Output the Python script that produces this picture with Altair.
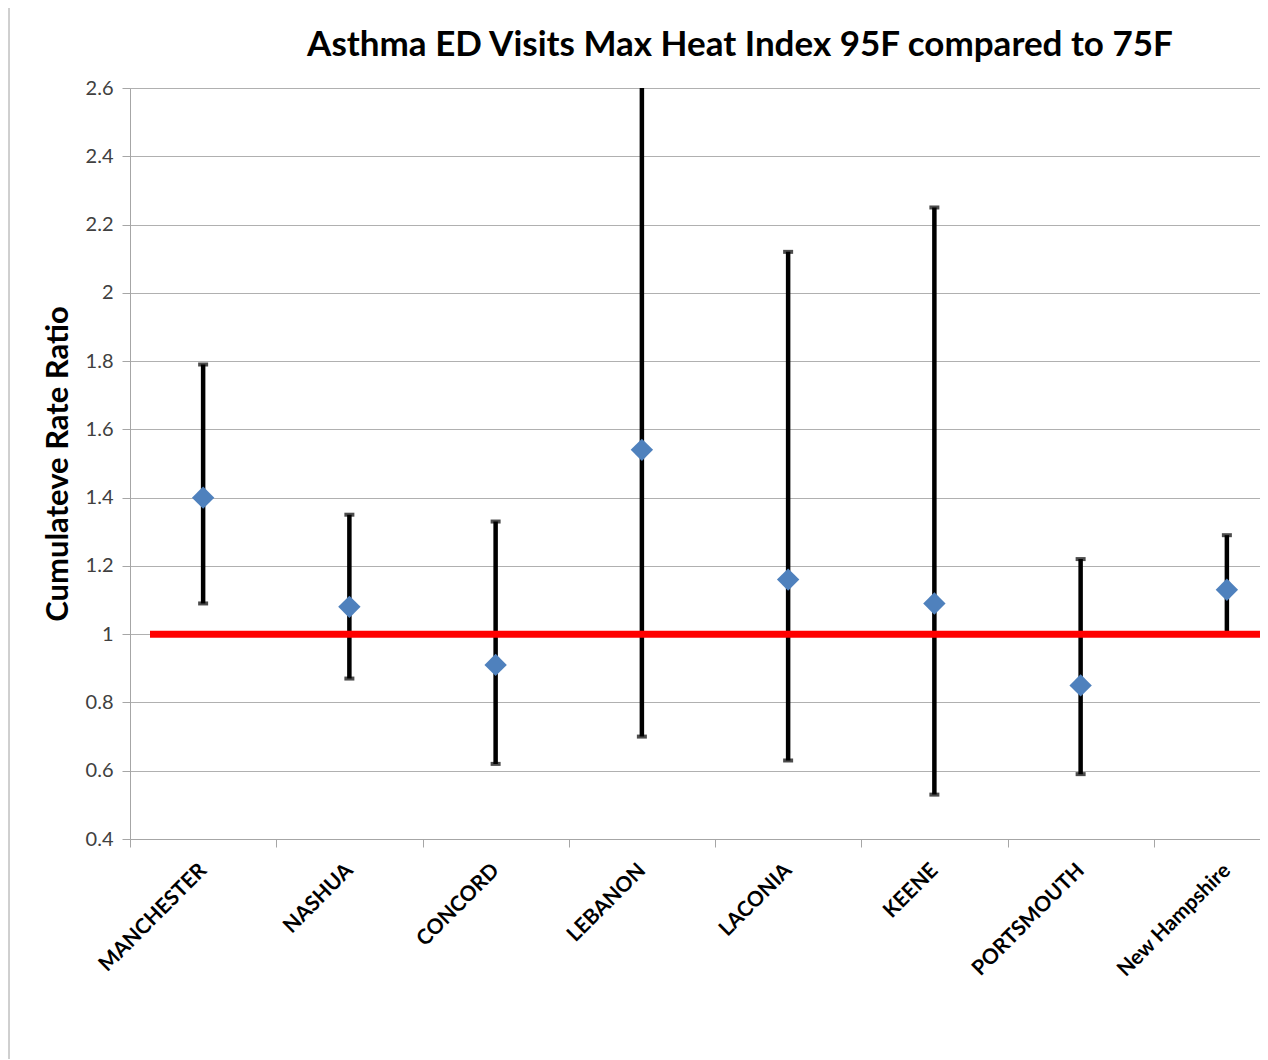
import altair as alt
import pandas as pd

categories = ["MANCHESTER", "NASHUA", "CONCORD", "LEBANON", "LACONIA",
              "KEENE", "PORTSMOUTH", "New Hampshire"]
ratio = [1.40, 1.08, 0.91, 1.54, 1.16, 1.09, 0.85, 1.13]
lower = [1.09, 0.87, 0.62, 0.70, 0.63, 0.53, 0.59, 1.00]
upper = [1.79, 1.35, 1.33, 3.00, 2.12, 2.25, 1.22, 1.29]
y_ticks = [0.4, 0.6, 0.8, 1.0, 1.2, 1.4, 1.6, 1.8, 2.0, 2.2, 2.4, 2.6]
reference_value = [1.0]
title_text = ["Asthma ED Visits Max Heat Index 95F compared to 75F"]

df = pd.DataFrame({"city": categories, "ratio": ratio, "lower": lower, "upper": upper})
ref_df = pd.DataFrame({"ref": reference_value})
title_df = pd.DataFrame({"t": title_text})

W, H = 1130, 751
FONT = "Lato"

xscale = alt.Scale(domain=categories, range=[0, 1170], paddingInner=0, paddingOuter=0)
yscale = alt.Scale(domain=[0.4, 2.6], nice=False, zero=False)

x_axis = alt.Axis(
    title=None, labelAngle=-45, labelAlign="right", labelBaseline="middle",
    labelFont=FONT, labelFontWeight="bold", labelFontSize=21, labelColor="black",
    tickBand="extent", tickSize=8, tickColor="#a6a6a6", domainColor="#a6a6a6",
    labelPadding=20, grid=False, labelOverlap=False,
)
y_axis = alt.Axis(
    title="Cumulateve Rate Ratio", titleFont=FONT, titleFontWeight="bold",
    titleFontSize=31, titleColor="black", titlePadding=11,
    values=y_ticks, format="~g", labelFont=FONT, labelFontSize=20,
    labelColor="#404040", labelPadding=9, tickSize=8, tickColor="#a6a6a6",
    domainColor="#a6a6a6", gridColor="#b0b0b0", gridWidth=1.2,
)

base = alt.Chart(df)

bars = base.mark_rule(color="black", strokeWidth=4.5, clip=True).encode(
    x=alt.X("city:N", scale=xscale, sort=categories, axis=x_axis),
    y=alt.Y("lower:Q", scale=yscale, axis=y_axis),
    y2="upper:Q",
)

caps_hi = base.mark_tick(color="black", thickness=4, size=10, orient="horizontal", clip=True).encode(
    x=alt.X("city:N", scale=xscale, sort=categories),
    y=alt.Y("upper:Q", scale=yscale),
)
caps_lo = base.mark_tick(color="black", thickness=4, size=10, orient="horizontal", clip=True).encode(
    x=alt.X("city:N", scale=xscale, sort=categories),
    y=alt.Y("lower:Q", scale=yscale),
)

points = base.mark_point(shape="diamond", filled=True, size=500, color="#4F81BD", opacity=1).encode(
    x=alt.X("city:N", scale=xscale, sort=categories),
    y=alt.Y("ratio:Q", scale=yscale),
)

ref = alt.Chart(ref_df).mark_rule(color="#FF0000", strokeWidth=7).encode(
    y=alt.Y("ref:Q", scale=yscale),
    x=alt.value(20),
    x2=alt.value(W),
)

border = alt.Chart(ref_df).mark_rule(color="#a0a0a0", strokeWidth=1).encode(
    x=alt.value(-121),
    y=alt.value(-80),
    y2=alt.value(H + 230),
)

title = alt.Chart(title_df).mark_text(
    font=FONT, fontSize=35, fontWeight="bold", color="black",
    align="center", baseline="middle",
).encode(text="t:N", x=alt.value(610), y=alt.value(-43))

chart = alt.layer(border, bars, caps_hi, caps_lo, points, ref, title).properties(
    width=W, height=H,
    padding={"left": 122, "top": 80, "right": 0, "bottom": 220},
    autosize=alt.AutoSizeParams(type="none"),
).configure_view(stroke=None).configure(background="white")

chart.save("out.html", embed_options={"renderer": "svg", "actions": False})
